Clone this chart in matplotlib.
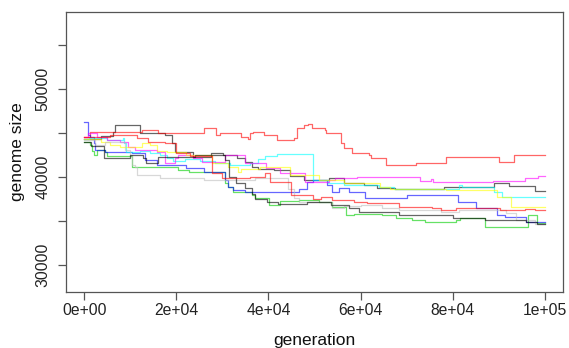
import matplotlib.pyplot as plt

plt.rcParams["font.family"] = ["Liberation Sans", "DejaVu Sans"]

# Ten runs of genome size over generations (step traces)
black_a_gen = [0, 3500, 6300, 6700, 12100, 17500, 19000, 19700, 23600, 27500, 30100, 33100, 34900, 36400,
               37700, 41300, 44600, 47800, 53200, 56500, 60800, 63600, 67500, 78100, 89000, 92200, 98000, 100000]
black_a_size = [44300, 44700, 45100, 45900, 45000, 44800, 43900, 42800, 42300, 42700, 42500, 42200, 41700, 41100,
                40900, 40800, 40100, 39700, 39900, 39300, 39100, 38700, 38600, 38900, 39300, 39000, 38400, 38400]

red_high_gen = [0, 1300, 12500, 16000, 26000, 28600, 29500, 34000, 35500, 36000, 36700, 39000, 41800, 45500, 46300,
                47800, 48600, 49500, 52200, 52600, 55800, 56500, 58200, 61900, 62300, 65600, 72100, 78600, 90000,
                93300, 100000]
red_high_size = [44600, 45100, 45300, 45000, 45600, 44800, 45000, 44500, 44300, 45000, 45100, 44800, 44200, 44400,
                 45600, 45900, 46000, 45600, 45300, 45000, 43900, 43300, 42700, 42500, 42200, 41400, 41600, 42300,
                 41700, 42500, 42500]

green_gen = [0, 1300, 1700, 2000, 2800, 4500, 5000, 10400, 20300, 22700, 30500, 31200, 32300, 36400, 37000, 40100,
             42400, 46700, 50900, 53900, 56900, 58600, 64700, 67700, 71200, 74000, 80700, 81600, 87000, 96300,
             98300, 100000]
green_size = [44000, 43600, 42900, 42500, 43100, 42800, 42400, 41100, 40800, 40600, 39300, 38900, 38300, 37900,
              37600, 36800, 37300, 37400, 37100, 36600, 35700, 35800, 35700, 35300, 35100, 34900, 35100, 35300,
              34300, 35700, 34800, 34800]

blue_gen = [0, 700, 1300, 2000, 2400, 4500, 10400, 13200, 15800, 22100, 26000, 30500, 31200, 32300, 34900, 46700,
            48300, 49600, 52800, 53900, 55400, 57600, 60900, 70000, 81200, 85000, 89600, 91500, 95900, 100000]
blue_size = [46200, 44800, 44500, 43900, 43100, 42800, 42700, 41900, 41400, 41000, 40600, 39700, 38900, 38500,
             38300, 38600, 39400, 39700, 39100, 38300, 38800, 38300, 37600, 38000, 37200, 36500, 35700, 35500,
             34900, 34900]

cyan_gen = [0, 1000, 4900, 8300, 8700, 9100, 12100, 14300, 16400, 18000, 19300, 21900, 25100, 28400, 31600, 35900,
            37700, 39200, 41800, 49600, 53000, 56500, 64000, 67300, 81400, 82100, 89000, 90700, 100000]
cyan_size = [44300, 44400, 44200, 44400, 43900, 42800, 43000, 42700, 42500, 42200, 41800, 42000, 41800, 41600,
             41400, 41600, 42000, 42400, 42600, 39700, 39300, 39100, 38900, 38600, 39100, 38900, 38300, 37700, 37700]

magenta_gen = [0, 700, 2800, 5000, 7800, 9500, 11000, 15800, 17500, 19700, 20300, 23600, 25500, 30500, 34900,
               39500, 42400, 48000, 53200, 54500, 59300, 73000, 75300, 75700, 88700, 95700, 98500, 100000]
magenta_size = [44500, 45000, 44500, 44200, 44000, 43400, 43100, 42800, 41600, 42200, 42500, 42200, 41700, 42500,
                41600, 41000, 40400, 39400, 39700, 39900, 40000, 39500, 39800, 39400, 39500, 39900, 40100, 40100]

yellow_gen = [0, 3500, 5600, 7800, 12500, 14300, 15800, 18000, 22000, 27700, 31200, 33300, 34000, 38100, 44600,
              51000, 56500, 64300, 66500, 78600, 89600, 92600, 100000]
yellow_size = [44300, 44000, 43600, 43400, 43900, 43600, 43000, 42800, 42500, 41600, 41100, 40600, 40900, 41100,
               40200, 39700, 39300, 38900, 38600, 38500, 37700, 36600, 36600]

gray_gen = [0, 2400, 4500, 8900, 9900, 10400, 11000, 11500, 16400, 26000, 37000, 44200, 45500, 46700, 53900, 56500,
            60000, 64700, 68400, 77500, 81400, 91600, 93700, 98000, 100000]
gray_size = [44200, 43600, 44000, 43100, 42500, 41400, 41100, 40200, 39900, 39700, 39900, 38600, 37600, 37100,
             36500, 36700, 36800, 36500, 36300, 36000, 36300, 35900, 35100, 34600, 34600]

black_b_gen = [0, 1500, 4300, 9800, 12700, 13400, 16000, 24000, 30500, 31400, 33000, 35000, 36400, 37000, 39600,
               42000, 48300, 53500, 57500, 59700, 68400, 80100, 87000, 95900, 98300, 100000]
black_b_size = [44000, 43500, 42200, 42500, 42200, 41600, 42300, 42500, 41900, 40000, 39300, 38700, 38100, 37500,
                37100, 36900, 37200, 36800, 36500, 36000, 35700, 35300, 35100, 34900, 34600, 34600]

red_low_gen = [0, 5500, 11500, 13800, 17500, 19900, 23000, 27700, 30000, 36000, 39200, 40300, 44800, 49600, 51500,
               53700, 58500, 61300, 68400, 75500, 77500, 80700, 90300, 95700, 98000, 100000]
red_low_size = [44600, 44800, 44400, 44000, 43900, 42700, 42400, 40500, 39900, 40000, 40500, 39400, 38000, 37500,
                37700, 37400, 37200, 37000, 36600, 36500, 36200, 36500, 36200, 36400, 36200, 36200]

runs = [
    (black_a_gen, black_a_size, "black"),
    (red_high_gen, red_high_size, "red"),
    (green_gen, green_size, "#00CD00"),
    (blue_gen, blue_size, "blue"),
    (cyan_gen, cyan_size, "cyan"),
    (magenta_gen, magenta_size, "magenta"),
    (yellow_gen, yellow_size, "yellow"),
    (gray_gen, gray_size, "#BEBEBE"),
    (black_b_gen, black_b_size, "black"),
    (red_low_gen, red_low_size, "red"),
]

fig = plt.figure(figsize=(5.69, 3.48), dpi=100)
ax = fig.add_axes([0.116, 0.161, 0.8735, 0.8045])

for gen, size, col in runs:
    ax.step(gen, size, where="post", color=col, alpha=0.6, lw=0.9)

ax.set_xlim(-4000, 104000)
ax.set_ylim(26930, 58750)

x_ticks = [0, 20000, 40000, 60000, 80000, 100000]
x_labels = ["0e+00", "2e+04", "4e+04", "6e+04", "8e+04", "1e+05"]
y_ticks = [30000, 35000, 40000, 45000, 50000, 55000]
y_labels = ["30000", "", "40000", "", "50000", ""]

ax.set_xticks(x_ticks, x_labels)
ax.set_yticks(y_ticks, y_labels)
plt.setp(ax.get_yticklabels(), rotation=90, va="center")

edge = "#555555"
for sp in ax.spines.values():
    sp.set_color(edge)
    sp.set_linewidth(0.9)
ax.tick_params(axis="both", color=edge, width=0.9, length=6, labelsize=11.3, labelcolor="#222222")
ax.tick_params(axis="x", pad=2)
ax.tick_params(axis="y", pad=5)

fig.text(314 / 569, 1 - 341 / 348, "generation", ha="center", va="center", fontsize=12.5, color="#111111")
fig.text(18 / 569, 1 - 152 / 348, "genome size", ha="center", va="center", rotation=90,
         fontsize=12.5, color="#111111")

fig.savefig("out.png", dpi=100)
